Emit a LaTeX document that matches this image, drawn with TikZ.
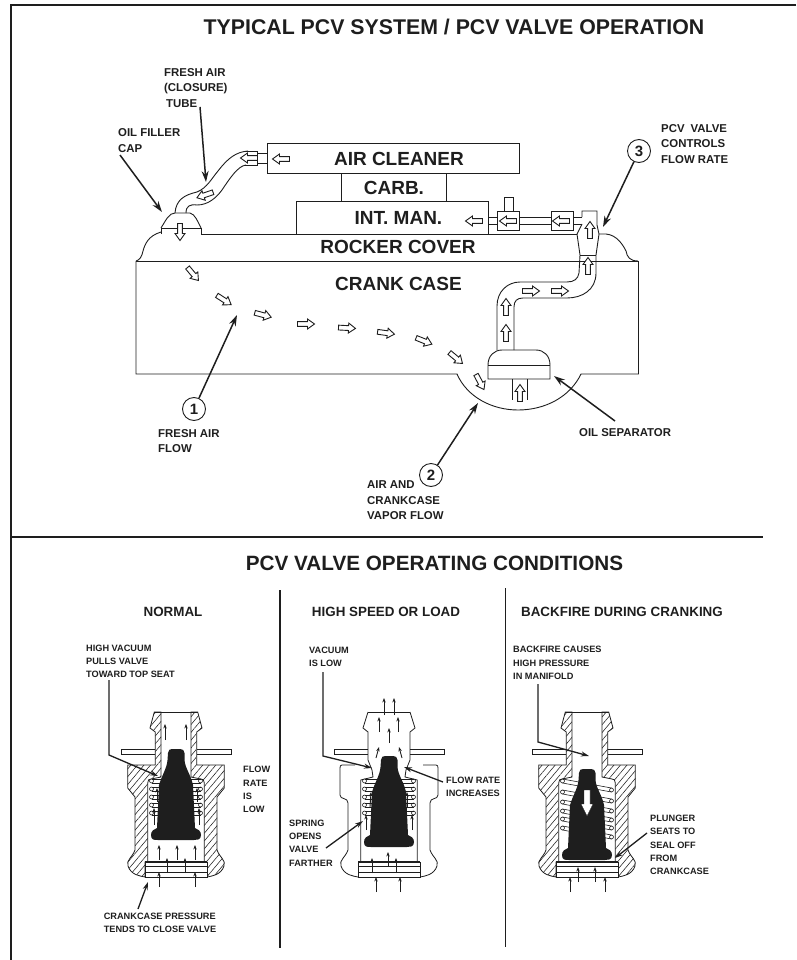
\documentclass[tikz,border=0pt]{standalone}
\usepackage{fontspec}
\setmainfont{Liberation Sans}
\usetikzlibrary{arrows.meta,patterns.meta}
\definecolor{ink}{HTML}{1E1E1E}
\tikzset{
  every node/.style={text=ink,font=\bfseries},
  ttl/.style={font=\bfseries\fontsize{21.3}{24}\selectfont,inner sep=0pt},
  ttlb/.style={font=\bfseries\fontsize{20.7}{24}\selectfont,inner sep=0pt},
  box/.style={font=\bfseries\fontsize{19}{23}\selectfont,inner sep=0pt},
  sub/.style={font=\bfseries\fontsize{13.4}{14}\selectfont,inner sep=0pt},
  lab/.style={font=\bfseries\fontsize{11.4}{15.6}\selectfont,align=left,inner sep=0pt,anchor=west},
  sml/.style={font=\bfseries\fontsize{9.2}{13.2}\selectfont,align=left,inner sep=0pt,anchor=west},
  numc/.style={circle,draw=ink,line width=.9pt,minimum size=23pt,inner sep=0pt,font=\bfseries\fontsize{15}{18}\selectfont},
  ln/.style={draw=ink,line width=.9pt},
  frame/.style={draw=ink,line width=2pt},
  leader/.style={draw=ink,line width=1.5pt,-{Stealth[length=11pt,width=7pt]}},
  vleader/.style={draw=ink,line width=1.3pt,-{Stealth[length=8pt,width=5pt]}},
  flow/.style={draw=ink,line width=.9pt,-{Stealth[length=4.5pt,width=3.4pt]}},
  blk/.style={draw=ink,line width=.9pt,fill=white},
  vl/.style={draw=ink,line width=.8pt},
  hatchf/.style={draw=ink,line width=.8pt,pattern={Lines[angle=50,distance=5pt,line width=.55pt]},pattern color=ink}
}
\newcommand\blk[3]{\draw[blk,shift={(#1,#2)},rotate=#3] (-8.5,-2.4) -- (1.5,-2.4) -- (1.5,-5) -- (8.5,0) -- (1.5,5) -- (1.5,2.4) -- (-8.5,2.4) -- cycle;}
\newcommand\plunger[1]{\fill[ink,shift={(0,#1)}] (-8,753) .. controls (-8,750) and (-6,749) .. (-4,749) -- (4,749) .. controls (7,749) and (8,750) .. (8.5,753) -- (8.5,760) .. controls (9,768) and (15,775) .. (17,785) -- (19,828) .. controls (22,829) and (25,831) .. (25,835) .. controls (25,840) and (21,840) .. (18,840) -- (-18,840) .. controls (-22,840) and (-25,840) .. (-25,835) .. controls (-25,831) and (-22,829) .. (-19,828) -- (-17,785) .. controls (-14,775) and (-9,768) .. (-8.5,760) -- cycle;}
\newcommand\insertpart{%
  \draw[vl,fill=white] (-31,862) rectangle (31,877);
  \draw[draw=ink,line width=1.2pt] (-31,862) -- (31,862);
  \draw[vl] (-31,866.5) -- (31,866.5) (-31,872) -- (31,872);}
\newcommand\plates{\draw[vl] (-21,749.5) -- (-55,749.5) -- (-55,754.5) -- (-21,754.5) (21,749.5) -- (55,749.5) -- (55,754.5) -- (21,754.5);}
\newcommand\hatched{%
  \foreach \s in {-1,1}{
    \draw[hatchf,xscale=\s] (15,712) -- (21.7,712) -- (26,728) -- (20.7,732) -- (20.7,765) -- (48.3,765) -- (48.3,788) -- (41,797) -- (41,850) .. controls (44,858) and (50,860) .. (48,866) .. controls (45,875) and (36,876) .. (31,877) -- (31,862) -- (28.3,862) -- (28.3,783) .. controls (28.3,780) and (27,779) .. (25,779) -- (15,777) -- cycle;}
  \draw[vl] (-21.7,712) -- (21.7,712);}
\newcommand\coils[2]{\foreach \y in {#1}{
    \draw[vl,line width=.6pt,fill=white] (-24.5,\y) circle (2);
    \draw[vl,line width=.6pt,fill=white] (24.5,\y+#2) circle (2);
    \draw[vl,line width=.6pt] (-24.5,\y-2) -- (24.5,\y+#2-2) (-24.5,\y+2) -- (24.5,\y+#2+2);}}
\begin{document}
\begin{tikzpicture}[x=1pt,y=-1pt]
\useasboundingbox (0,0) rectangle (796,960);
% frame
\draw[frame] (796,5.5) -- (10.5,5.5) -- (10.5,960);
\draw[frame] (10.5,536.5) -- (763,536.5);
\draw[draw=ink,line width=1.2pt] (280,590) -- (280,948);
\draw[draw=ink,line width=1.2pt] (505.7,588) -- (505.7,947);
\node[ttl] (t1) at (454,27) {TYPICAL PCV SYSTEM / PCV VALVE OPERATION};
\node[ttlb] (t2) at (434.5,563.5) {PCV VALVE OPERATING CONDITIONS};
% boxes
\node[ln,draw,minimum width=252pt,minimum height=30.5pt,anchor=north west,box] (air) at (267,143) {\hspace*{11pt}AIR CLEANER};
\node[ln,draw,minimum width=105pt,minimum height=27.5pt,anchor=north west,box] (carb) at (341,173.5) {CARB.};
\node[ln,draw,minimum width=192pt,minimum height=33pt,anchor=north west,box] (intm) at (296,201) {\hspace*{12pt}INT. MAN.};
\node[box] (rock) at (398,247) {ROCKER COVER};
\node[box] (crank) at (398.5,284) {CRANK CASE};
% rocker cover and crank case
\draw[ln] (136,261) -- (638,261);
\draw[ln] (201,234) -- (577,234);
\draw[ln] (161,232) .. controls (148,236) and (145,244) .. (143,251) .. controls (142,256) and (140,260) .. (136,261);
\draw[ln] (599,234) -- (606,234) .. controls (617,235) and (623,245) .. (626,251) .. controls (627,257) and (630,261) .. (638,261);
\draw[ln] (136,261) -- (136,374) -- (457,374) .. controls (467,397) and (492,410) .. (518,410) .. controls (545,410) and (570,397) .. (581,374) -- (638.5,374) -- (638.5,261);
% filler cap
\draw[ln] (161,234) -- (161,228) -- (201,228) -- (201,234);
\draw[ln] (161,228) .. controls (166,220) and (169,213) .. (175,213) -- (190,213) .. controls (195,214) and (198,222) .. (201,228);
% fresh air tube
\draw[ln] (175,213) .. controls (176,200) and (184,195) .. (197,192) .. controls (207,188) and (212,178) .. (218,171) .. controls (228,158) and (236,152) .. (248,151);
\draw[ln] (186,213) .. controls (186,206) and (190,204) .. (197,205) .. controls (208,205) and (216,198) .. (222,190) .. controls (230,178) and (238,166) .. (246,165);
\draw[ln] (245,151) -- (257,151) -- (257,165) -- (245,165);
\draw[ln] (257,153.5) -- (267,153.5) (257,163) -- (267,163);
% manifold pipe
\draw[ln] (488,217) -- (497,217) (488,224) -- (497,224);
\draw[ln] (497,211) rectangle (519,230);
\draw[ln] (519,217) -- (551,217) (519,224) -- (551,224);
\draw[ln] (551,211) rectangle (573,230);
\draw[ln] (573,217) -- (582,217) (573,224) -- (582,224);
\draw[ln] (504,211) -- (504,197) -- (513,197) -- (513,211);
% PCV valve and hose
\draw[ln] (582,217) -- (582,211) -- (597,211) -- (597,225) -- (599,234) -- (596,255) -- (596,273) .. controls (596,290) and (582,298) .. (567,298) -- (523,298) .. controls (517,298) and (514,301) .. (514,307) -- (514,350);
\draw[ln] (582,224) -- (577,234) -- (580,255) -- (579,273) .. controls (578,279) and (574,282) .. (567,282) -- (520,282) .. controls (507,282) and (497,292) .. (497,306) -- (497,350);
\draw[ln] (580,255) -- (596,255);
% oil separator
\draw[ln] (488,365) .. controls (488,356) and (494,350) .. (502,350) -- (536,350) .. controls (544,350) and (550,356) .. (550,365) -- (550,379) -- (488,379) -- cycle;
\draw[ln] (488,365) -- (550,365);
\draw[ln] (512,379) -- (512,400) (527,379) -- (527,400);
% block arrows
\blk{281}{159}{180}\blk{249}{158}{180}\blk{205}{195}{199}\blk{180}{232}{270}
\blk{193}{274}{-50}\blk{224}{300}{-33}\blk{263}{315}{-15}\blk{306}{324}{0}\blk{347}{328}{-3}\blk{386}{333}{-8}\blk{424}{341}{-22}
\blk{456}{358}{-40}\blk{480}{382}{-62}\blk{520}{393}{90}\blk{506}{333}{90}\blk{506}{307}{90}
\blk{531}{291}{0}\blk{560}{291}{0}\blk{588}{266}{90}\blk{590}{230}{90}
\blk{561}{221}{180}\blk{508}{221}{180}\blk{474}{221}{180}
% labels top
\node[lab] (lfa) at (164,88) {FRESH AIR\\(CLOSURE)\\\hspace*{2pt}TUBE};
\node[lab] (lof) at (118,140.5) {OIL FILLER\\CAP};
\node[lab] (lpcv) at (661,144) {PCV\hspace{6pt}VALVE\\CONTROLS\\FLOW RATE};
\node[lab] (lfl) at (158,441) {FRESH AIR\\FLOW};
\node[lab] (lav) at (367,500.5) {AIR AND\\CRANKCASE\\VAPOR FLOW};
\node[lab,anchor=west] (los) at (579,433) {OIL SEPARATOR};
\node[numc] (c1) at (194,409) {1};
\node[numc] (c2) at (431,475) {2};
\node[numc] (c3) at (639,151) {3};
\coordinate (tc1) at (237,315);
\coordinate (tc2) at (478,403);
\coordinate (tc3) at (603,227);
\coordinate (sof) at (120,155);
\coordinate (tof) at (162,212);
\coordinate (sfa) at (200,107);
\coordinate (tfa) at (206,182);
\coordinate (sos) at (615,421);
\coordinate (tos) at (554,376);
\draw[leader] (c1) -- (tc1);
\draw[leader] (c2) -- (tc2);
\draw[leader] (c3) -- (tc3);
\draw[leader] (sof) -- (tof);
\draw[leader] (sfa) -- (tfa);
\draw[leader] (sos) -- (tos);
% sub titles
\node[sub] (n1) at (173,612) {NORMAL};
\node[sub] (n2) at (386,612) {HIGH SPEED OR LOAD};
\node[sub] (n3) at (622,612) {BACKFIRE DURING CRANKING};
% valve 1
\begin{scope}[shift={(176,0)}]
\hatched \plates
\coils{781,789,797,805,813}{0}
\insertpart
\plunger{0}
\foreach \xa/\ya/\yb in {-11/740/724,10/740/724,-17/860/845,1/860/845,19/860/845,-9/873/858,9/873/858,-17/887/872,19/887/872,-22/825/808,23/825/808,-19/802/788,21/802/788}
  {\draw[flow] (\xa,\ya) -- (\xa,\yb);}
\end{scope}
% valve 2
\begin{scope}[shift={(389,0)}]
\draw[vl] (-21,712) -- (21,712);
\foreach \s in {-1,1}{
  \draw[vl,xscale=\s] (21,712) -- (26,728) -- (21,732) -- (21,760) -- (17,770) -- (16,777) -- (28.3,780) -- (28.3,862);
  \draw[vl,xscale=\s] (34,765) -- (47,765) .. controls (48.5,765) and (49,766) .. (49,768) -- (49,795) .. controls (49,800) and (41,797) .. (41,803) -- (41,850) .. controls (44,858) and (50,860) .. (48,866) .. controls (45,875) and (36,876) .. (31,877);}
\plates
\coils{781,789,797,805,813}{0}
\insertpart
\plunger{7}
\foreach \xa/\ya/\yb in {-5/715/698,5/715/698,-10/732/717,9/732/717,0/743/728,-23/830/815,23/830/815,-17/873/858,-1/867/852,7/873/858,-13/892/877,11/892/877}
  {\draw[flow] (\xa,\ya) -- (\xa,\yb);}
\draw[flow] (-13,758) -- (-10,747);
\draw[flow] (13,758) -- (10,747);
\draw[flow] (-19,807) -- (-18,792);
\draw[flow] (18,807) -- (18,792);
\end{scope}
% valve 3
\begin{scope}[shift={(587,0)}]
\hatched \plates
\coils{781,792,802,811,819,828}{9}
\insertpart
\plunger{20}
\draw[blk,line width=.4pt] (-3,790) -- (3,790) -- (3,804) -- (6,804) -- (0,816) -- (-6,804) -- (-3,804) -- cycle;
\foreach \xa/\ya/\yb in {-9/882/867,8/882/867,-17/892/877,18/892/877}
  {\draw[flow] (\xa,\ya) -- (\xa,\yb);}
\end{scope}
% valve labels
\node[sml] (a1) at (86,661.5) {HIGH VACUUM\\PULLS VALVE\\TOWARD TOP SEAT};
\node[sml] (a2) at (243,789.5) {FLOW\\RATE\\IS\\LOW};
\node[sml] (a3) at (103.6,922.5) {CRANKCASE PRESSURE\\TENDS TO CLOSE VALVE};
\node[sml] (b1) at (309,657) {VACUUM\\IS LOW};
\node[sml] (b2) at (446,786.5) {FLOW RATE\\INCREASES};
\node[sml] (b3) at (289,843) {SPRING\\OPENS\\VALVE\\FARTHER};
\node[sml] (d1) at (513,663) {BACKFIRE CAUSES\\HIGH PRESSURE\\IN MANIFOLD};
\node[sml] (d2) at (650,845) {PLUNGER\\SEATS TO\\SEAL OFF\\FROM\\CRANKCASE};
% valve leaders
\coordinate (sa1) at (109,680); \coordinate (ma1) at (109,755); \coordinate (ta1) at (158,776);
\coordinate (sa3) at (138,909); \coordinate (ta3) at (148,882);
\coordinate (sb1) at (323,672); \coordinate (mb1) at (323,756); \coordinate (tb1) at (372,768);
\coordinate (sb2) at (443,782); \coordinate (tb2) at (404,767);
\coordinate (sb3) at (326,848); \coordinate (tb3) at (363,821);
\coordinate (sd1) at (538,684); \coordinate (md1) at (538,742); \coordinate (td1) at (589,756);
\coordinate (sd2) at (647,833); \coordinate (td2) at (615,858);
\draw[vleader] (sa1) -- (ma1) -- (ta1);
\draw[vleader] (sa3) -- (ta3);
\draw[vleader] (sb1) -- (mb1) -- (tb1);
\draw[vleader] (sb2) -- (tb2);
\draw[vleader] (sb3) -- (tb3);
\draw[vleader] (sd1) -- (md1) -- (td1);
\draw[vleader] (sd2) -- (td2);
\end{tikzpicture}
\end{document}
